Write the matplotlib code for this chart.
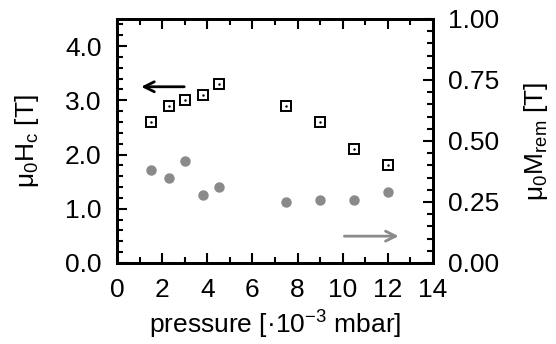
#!/usr/bin/env python3

import matplotlib
matplotlib.use('Agg')
import matplotlib.pyplot as plt
from matplotlib.ticker import MultipleLocator, FormatStrFormatter

plt.rcParams['font.family'] = ['Liberation Sans', 'DejaVu Sans']
plt.rcParams['mathtext.fontset'] = 'custom'
plt.rcParams['mathtext.rm'] = 'Liberation Sans'
plt.rcParams['mathtext.it'] = 'Liberation Sans'
plt.rcParams['mathtext.default'] = 'regular'

# data
pressure = [1.5, 2.3, 3.0, 3.8, 4.5, 7.5, 9.0, 10.5, 12.0]
hc = [2.60, 2.90, 3.00, 3.10, 3.30, 2.90, 2.60, 2.10, 1.80]
mrem = [0.38, 0.35, 0.42, 0.28, 0.31, 0.25, 0.26, 0.26, 0.29]

gray = '#8a8a8a'
fs = 19

fig = plt.figure(figsize=(5.56, 3.44), dpi=100)
ax = fig.add_axes([0.2104, 0.2355, 0.5684, 0.7093])
ax2 = ax.twinx()

ax.plot(pressure, hc, 's', ms=7, mfc='white', mec='black', mew=1.4, zorder=3)
ax.plot(pressure, hc, '.', ms=1.5, color='black', zorder=4)
ax2.plot(pressure, mrem, 'o', ms=6.5, color=gray, mec=gray)

# arrows telling which axis belongs to which series
ax.annotate('', xy=(0.95, 3.25), xytext=(3.1, 3.25),
            arrowprops=dict(arrowstyle='->', color='black', lw=2,
                            mutation_scale=18))
ax2.annotate('', xy=(12.6, 0.11), xytext=(9.95, 0.11),
             arrowprops=dict(arrowstyle='->', color=gray, lw=2,
                             mutation_scale=18))

ax.set_xlim(0, 14)
ax.set_ylim(0, 4.5)
ax2.set_ylim(0, 1)

ax.xaxis.set_major_locator(MultipleLocator(2))
ax.xaxis.set_minor_locator(MultipleLocator(1))
ax.yaxis.set_major_locator(MultipleLocator(1))
ax.yaxis.set_minor_locator(MultipleLocator(0.2))
ax.yaxis.set_major_formatter(FormatStrFormatter('%.1f'))
ax2.yaxis.set_major_locator(MultipleLocator(0.25))
ax2.yaxis.set_minor_locator(MultipleLocator(0.05))
ax2.yaxis.set_major_formatter(FormatStrFormatter('%.2f'))

ax.tick_params(which='both', direction='in', top=True, width=1.5,
               labelsize=fs, pad=11)
ax.tick_params(which='major', length=7)
ax.tick_params(which='minor', length=4)
ax2.tick_params(which='both', direction='in', width=1.5, labelsize=fs, pad=11)
ax2.tick_params(which='major', length=7)
ax2.tick_params(which='minor', length=4)

for a in (ax, ax2):
    for s in a.spines.values():
        s.set_linewidth(2)

ax.set_xlabel('pressure [·10$^{-3}$ mbar]', fontsize=fs, labelpad=5)
ax.set_ylabel('μ$_0$H$_c$ [T]', fontsize=fs, labelpad=17)
ax2.set_ylabel('μ$_0$M$_{rem}$ [T]', fontsize=fs, labelpad=16)

fig.savefig('out.png', dpi=100)
